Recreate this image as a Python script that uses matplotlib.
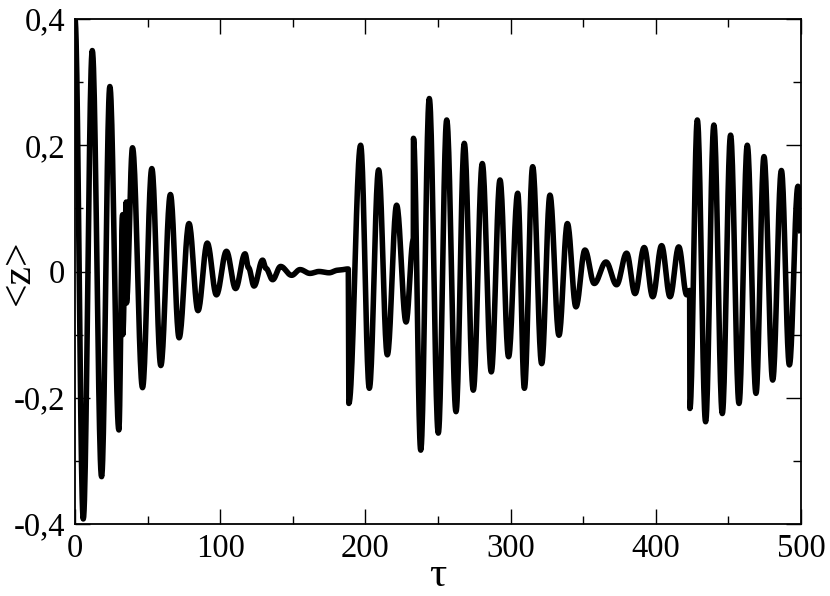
import numpy as np
import matplotlib
matplotlib.use("Agg")
import matplotlib.pyplot as plt
from matplotlib.ticker import MultipleLocator, FuncFormatter

# Extrema (turning points) of <z>(tau)
tau_pts = [0.0, 5.7, 11.9, 18.3, 24.0, 30.2, 32.8, 32.9, 35.3, 35.4, 39.6,
           46.5, 52.9, 59.1, 65.7, 71.7, 78.5, 84.7, 91.1, 97.4, 104.3,
           110.6, 117.1, 119.5, 123.3, 129.2, 131.5, 136.1, 141.6, 149.2,
           155.0, 161.8, 168.0, 175.0, 181.0, 188.2, 188.6,
           196.7, 202.7, 209.1, 215.1, 221.5, 228.0, 233.0, 233.1,
           238.1, 244.0, 250.2, 256.0, 262.4, 268.1, 274.3, 280.5, 286.7,
           292.7, 298.6, 304.9, 309.5, 315.2, 321.4, 327.1, 333.3, 339.1,
           345.0, 351.2, 357.6, 365.7, 373.0, 379.9, 385.7, 392.0, 397.9,
           404.0, 409.8, 415.8, 421.3, 423.3, 423.5,
           428.6, 434.3, 440.0, 445.8, 451.5, 457.3, 463.0, 469.0, 474.5,
           480.5, 486.5, 492.0, 497.9, 500.0]
z_pts = [0.400, -0.392, 0.350, -0.325, 0.293, -0.251, 0.090, -0.100, 0.110, -0.050, 0.196,
         -0.184, 0.163, -0.149, 0.122, -0.105, 0.076, -0.062, 0.045, -0.037, 0.032,
         -0.027, 0.028, 0.006, -0.023, 0.018, 0.005, -0.013, 0.008, -0.006,
         0.003, -0.003, 0.000, -0.002, 0.002, 0.004, -0.209,
         0.200, -0.185, 0.161, -0.132, 0.105, -0.080, 0.050, 0.211,
         -0.283, 0.274, -0.256, 0.240, -0.222, 0.203, -0.188, 0.171, -0.159,
         0.145, -0.135, 0.124, -0.185, 0.166, -0.146, 0.121, -0.101, 0.076,
         -0.056, 0.034, -0.019, 0.015, -0.021, 0.029, -0.035, 0.038, -0.040,
         0.041, -0.040, 0.039, -0.037, -0.030, -0.217,
         0.240, -0.238, 0.232, -0.225, 0.216, -0.209, 0.200, -0.193, 0.182,
         -0.172, 0.160, -0.148, 0.135, 0.061]

x_ticks = [0, 100, 200, 300, 400, 500]
y_ticks = [-0.4, -0.2, 0.0, 0.2, 0.4]


def smooth_path(ts, zs, n=24):
    """Join consecutive turning points with half-cosine arcs (rendering only)."""
    xs, ys = [ts[0]], [zs[0]]
    for (t0, z0), (t1, z1) in zip(zip(ts[:-1], zs[:-1]), zip(ts[1:], zs[1:])):
        s = np.linspace(0, 1, n)[1:]
        xs.extend(t0 + (t1 - t0) * s)
        ys.extend(z0 + (z1 - z0) * (1 - np.cos(np.pi * s)) / 2)
    return np.array(xs), np.array(ys)


W, H = 830, 596
fig = plt.figure(figsize=(W / 100, H / 100), dpi=100)
ax = fig.add_axes([75 / W, 72 / H, 726 / W, 505 / H])

xs, ys = smooth_path(tau_pts, z_pts)
ax.plot(xs, ys, color="black", lw=4.0, solid_joinstyle="round", solid_capstyle="butt")

ax.set_xlim(0, 500)
ax.set_ylim(-0.4, 0.4)
ax.set_xticks(x_ticks)
ax.set_yticks(y_ticks)
ax.xaxis.set_minor_locator(MultipleLocator(50))
ax.yaxis.set_minor_locator(MultipleLocator(0.1))


def comma_fmt(v, pos):
    if abs(v) < 1e-9:
        return "0"
    return ("%.1f" % v).replace(".", ",")


ax.yaxis.set_major_formatter(FuncFormatter(comma_fmt))

font = ["Liberation Serif", "DejaVu Serif"]
for lab in ax.get_xticklabels() + ax.get_yticklabels():
    lab.set_fontfamily(font)
    lab.set_fontsize(23.5)

ax.tick_params(which="both", direction="in", top=True, right=True, width=1.0, colors="black")
ax.tick_params(which="major", length=11, pad=7)
ax.tick_params(which="minor", length=5.5)
for sp in ax.spines.values():
    sp.set_linewidth(1.3)

# axis titles placed in figure pixels (from the reference)
fig.text(438 / W, 1 - 595 / H, "τ", fontfamily=font, fontsize=31,
         ha="center", va="bottom")
fig.text(19 / W, 1 - 272 / H, "<z>", fontfamily=font, fontsize=30,
         rotation=90, ha="center", va="center")

fig.savefig("out.png", dpi=100)
